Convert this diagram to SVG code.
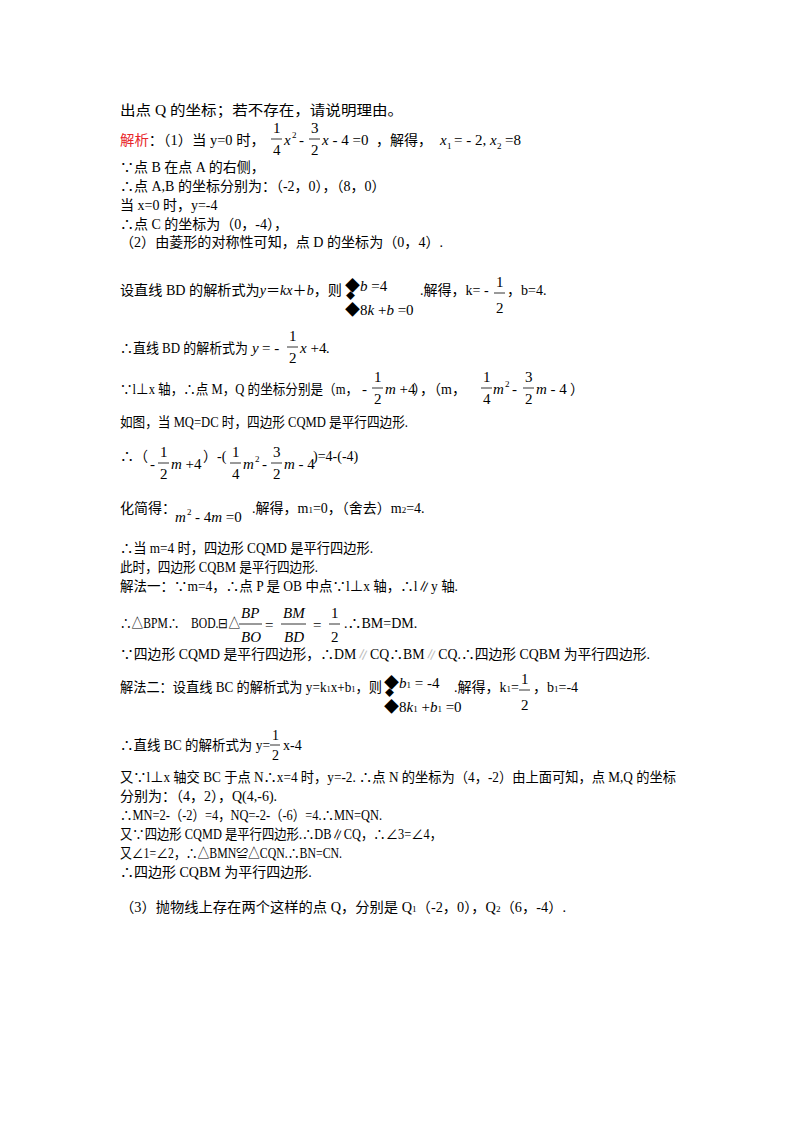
<svg xmlns="http://www.w3.org/2000/svg" width="800" height="1132" viewBox="0 0 800 1132">
<style>
text{font-family:"Liberation Serif","Noto Sans CJK SC",serif;font-size:14px;fill:#000}
.i{font-style:italic}
.s{font-size:9px}
.f{font-size:15px}
.r{fill:#e8262a}
line{stroke:#000;stroke-width:0.8}
</style>
<rect width="800" height="1132" fill="#fff"/>
<g id="text">
<text x="120" y="115" textLength="283" lengthAdjust="spacingAndGlyphs">出点 Q 的坐标；若不存在，请说明理由。</text>
<text x="120" y="145" textLength="145" lengthAdjust="spacingAndGlyphs"><tspan class="r">解析</tspan>：（1）当 y=0 时，</text>
<text x="273" y="133" class="f">1</text><line x1="271" y1="139" x2="282" y2="139"/><text x="273" y="155" class="f">4</text>
<text x="284" y="145" class="i f">x</text><text x="292" y="138" class="s">2</text>
<text x="299" y="145" class="f">-</text>
<text x="311" y="133" class="f">3</text><line x1="309" y1="139" x2="320" y2="139"/><text x="311" y="155" class="f">2</text>
<text x="322" y="145" class="f"><tspan class="i">x</tspan> - 4 =0</text>
<text x="376" y="145">，解得，</text>
<text x="440" y="145" class="i f">x</text><text x="447" y="149" class="s">1</text>
<text x="454" y="145" class="f">= - 2, <tspan class="i">x</tspan></text><text x="497" y="149" class="s">2</text><text x="505" y="145" class="f">=8</text>
<text x="120" y="172">∵点 B 在点 A 的右侧，</text>
<text x="120" y="191">∴点 A,B 的坐标分别为：（-2，0），（8，0）</text>
<text x="120" y="210">当 x=0 时，y=-4</text>
<text x="120" y="229">∴点 C 的坐标为（0，-4），</text>
<text x="120" y="247" textLength="323" lengthAdjust="spacingAndGlyphs">（2）由菱形的对称性可知，点 D 的坐标为（0，4）.</text>
<text x="120" y="295" textLength="222" lengthAdjust="spacingAndGlyphs">设直线 BD 的解析式为<tspan class="i">y</tspan>＝<tspan class="i">kx</tspan>＋<tspan class="i">b</tspan>，则</text>
<text x="345" y="291" class="f">◆<tspan class="i">b</tspan> =4</text>
<text x="346" y="299" class="s">◆</text>
<text x="345" y="315" class="f">◆8<tspan class="i">k</tspan> +<tspan class="i">b</tspan> =0</text>
<text x="420" y="295">.解得，k= -</text>
<text x="496" y="287" class="f">1</text><line x1="494" y1="293" x2="505" y2="293"/><text x="496" y="313" class="f">2</text>
<text x="507" y="295">，b=4.</text>
<text x="120" y="353" textLength="128" lengthAdjust="spacingAndGlyphs">∴直线 BD 的解析式为</text>
<text x="252" y="353" class="i f">y</text>
<text x="262" y="353" class="f">= -</text>
<text x="289" y="341" class="f">1</text><line x1="287" y1="347" x2="298" y2="347"/><text x="289" y="363" class="f">2</text>
<text x="300" y="353" class="f"><tspan class="i">x</tspan> +4</text><text x="326" y="353">.</text>
<text x="120" y="394" textLength="238" lengthAdjust="spacingAndGlyphs">∵l⊥x 轴，∴点 M，Q 的坐标分别是（m，</text>
<text x="362" y="394" class="f">-</text>
<text x="374" y="382" class="f">1</text><line x1="372" y1="388" x2="383" y2="388"/><text x="374" y="404" class="f">2</text>
<text x="385" y="394" class="f"><tspan class="i">m</tspan> +4</text>
<text x="413" y="394">），（m，</text>
<text x="483" y="382" class="f">1</text><line x1="481" y1="388" x2="492" y2="388"/><text x="483" y="404" class="f">4</text>
<text x="493" y="394" class="i f">m</text><text x="505" y="387" class="s">2</text>
<text x="512" y="394" class="f">-</text>
<text x="525" y="382" class="f">3</text><line x1="523" y1="388" x2="534" y2="388"/><text x="525" y="404" class="f">2</text>
<text x="536" y="394" class="f"><tspan class="i">m</tspan> - 4</text><text x="570" y="394">）</text>
<text x="120" y="427" textLength="288" lengthAdjust="spacingAndGlyphs">如图，当 MQ=DC 时，四边形 CQMD 是平行四边形.</text>
<text x="120" y="461">∴（</text>
<text x="150" y="469" class="f">-</text>
<text x="160" y="457" class="f">1</text><line x1="158" y1="463" x2="169" y2="463"/><text x="160" y="479" class="f">2</text>
<text x="171" y="469" class="f"><tspan class="i">m</tspan> +4</text>
<text x="203" y="461">）-(</text>
<text x="232" y="457" class="f">1</text><line x1="230" y1="463" x2="241" y2="463"/><text x="232" y="479" class="f">4</text>
<text x="243" y="469" class="i f">m</text><text x="255" y="462" class="s">2</text>
<text x="262" y="469" class="f">-</text>
<text x="273" y="457" class="f">3</text><line x1="271" y1="463" x2="282" y2="463"/><text x="273" y="479" class="f">2</text>
<text x="284" y="469" class="f"><tspan class="i">m</tspan> - 4</text>
<text x="313" y="461">)=4-(-4)</text>
<text x="120" y="513">化简得：</text>
<text x="175" y="522" class="i f">m</text><text x="187" y="515" class="s">2</text>
<text x="195" y="522" class="f">- 4<tspan class="i">m</tspan> =0</text>
<text x="252" y="513">.解得，m<tspan class="s">1</tspan>=0，（舍去）m<tspan class="s">2</tspan>=4.</text>
<text x="120" y="553" textLength="253" lengthAdjust="spacingAndGlyphs">∴当 m=4 时，四边形 CQMD 是平行四边形.</text>
<text x="120" y="572" textLength="198" lengthAdjust="spacingAndGlyphs">此时，四边形 CQBM 是平行四边形.</text>
<text x="120" y="591" textLength="338" lengthAdjust="spacingAndGlyphs">解法一：∵m=4，∴点 P 是 OB 中点∵l⊥x 轴，∴l∥y 轴.</text>
<text x="120" y="628" textLength="120" lengthAdjust="spacingAndGlyphs">∴△BPM∴　BOD.⊟△</text>
<text x="241" y="618" class="i f">BP</text><line x1="239" y1="624" x2="262" y2="624"/><text x="241" y="642" class="i f">BO</text>
<text x="265" y="630" class="f">=</text>
<text x="283" y="618" class="i f">BM</text><line x1="281" y1="624" x2="306" y2="624"/><text x="284" y="642" class="i f">BD</text>
<text x="313" y="630" class="f">=</text>
<text x="331" y="618" class="f">1</text><line x1="329" y1="624" x2="340" y2="624"/><text x="331" y="642" class="f">2</text>
<text x="344" y="628">.∴BM=DM.</text>
<text x="120" y="659" textLength="530" lengthAdjust="spacingAndGlyphs">∵四边形 CQMD 是平行四边形，∴DM<tspan fill="#bbb">∥</tspan>CQ∴BM<tspan fill="#bbb">∥</tspan>CQ.∴四边形 CQBM 为平行四边形.</text>
<text x="120" y="692" textLength="262" lengthAdjust="spacingAndGlyphs">解法二：设直线 BC 的解析式为 y=k<tspan class="s">1</tspan>x+b<tspan class="s">1</tspan>，则</text>
<text x="384" y="688" class="f">◆<tspan class="i">b</tspan><tspan class="s">1</tspan> = -4</text>
<text x="385" y="696" class="s">◆</text>
<text x="384" y="712" class="f">◆8<tspan class="i">k</tspan><tspan class="s">1</tspan> +<tspan class="i">b</tspan><tspan class="s">1</tspan> =0</text>
<text x="454" y="692">.解得，k<tspan class="s">1</tspan>=</text>
<text x="521" y="684" class="f">1</text><line x1="519" y1="690" x2="530" y2="690"/><text x="521" y="710" class="f">2</text>
<text x="533" y="692">，b<tspan class="s">1</tspan>=-4</text>
<text x="120" y="750" textLength="150" lengthAdjust="spacingAndGlyphs">∴直线 BC 的解析式为 y=</text>
<text x="272" y="740">1</text><line x1="270" y1="745" x2="280" y2="745"/><text x="272" y="760">2</text>
<text x="283" y="750"> x-4</text>
<text x="120" y="782" textLength="556" lengthAdjust="spacingAndGlyphs">又∵l⊥x 轴交 BC 于点 N∴x=4 时，y=-2. ∴点 N 的坐标为（4，-2）由上面可知，点 M,Q 的坐标</text>
<text x="120" y="801">分别为：（4，2），Q(4,-6).</text>
<text x="120" y="820" textLength="262" lengthAdjust="spacingAndGlyphs">∴MN=2-（-2）=4，NQ=-2-（-6）=4.∴MN=QN.</text>
<text x="120" y="839" textLength="322" lengthAdjust="spacingAndGlyphs">又∵四边形 CQMD 是平行四边形.∴DB∥CQ，∴∠3=∠4，</text>
<text x="120" y="858" textLength="222" lengthAdjust="spacingAndGlyphs">又∠1=∠2，∴△BMN≌△CQN.∴BN=CN.</text>
<text x="120" y="877">∴四边形 CQBM 为平行四边形.</text>
<text x="120" y="912" textLength="446" lengthAdjust="spacingAndGlyphs">（3）抛物线上存在两个这样的点 Q，分别是 Q<tspan class="s">1</tspan>（-2，0），Q<tspan class="s">2</tspan>（6，-4）.</text>
</g>
</svg>
